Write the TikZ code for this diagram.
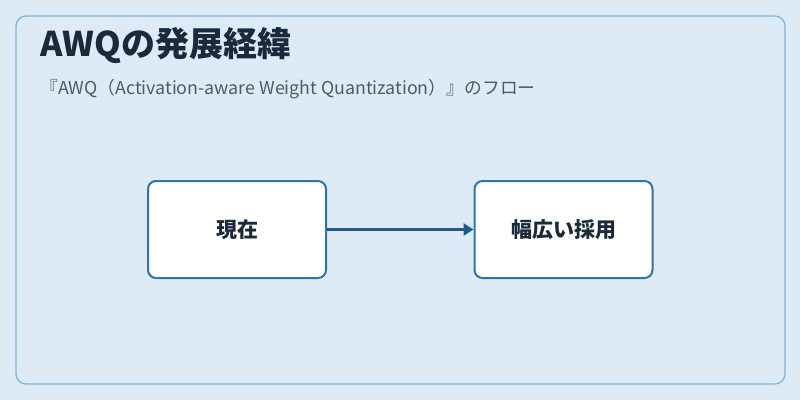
\documentclass[tikz,border=0pt]{standalone}
\usepackage{fontspec}
\setmainfont{Noto Sans CJK JP}
\usetikzlibrary{arrows.meta}
\definecolor{bg}{HTML}{DCEBF6}
\definecolor{frame}{HTML}{7FB2D9}
\definecolor{boxline}{HTML}{2E75AA}
\definecolor{arrowc}{HTML}{1F5A8A}
\definecolor{titlec}{HTML}{1B2A3A}
\definecolor{subc}{HTML}{4A5B6C}
\tikzset{
  stepbox/.style={draw=boxline,line width=2pt,fill=white,rounded corners=8pt,minimum width=178pt,minimum height=97pt,font=\fontsize{21}{24}\selectfont\bfseries,text=titlec},
  flow/.style={draw=arrowc,line width=3pt,-{Triangle[length=10pt,width=12pt]}}
}
\begin{document}
\begin{tikzpicture}[x=1pt,y=-1pt]
\path[fill=bg] (0,0) rectangle (800,400);
\useasboundingbox (0,0) rectangle (800,400);
\draw[frame,line width=1.2pt,rounded corners=10pt] (16,16) rectangle (785,384);
\node[anchor=west,font=\fontsize{34}{38}\selectfont\bfseries,text=titlec,inner sep=0pt] (title) at (40,46) {AWQの発展経緯};
\node[anchor=west,font=\fontsize{17.8}{20}\selectfont,text=subc,inner sep=0pt] (sub) at (40,89) {『AWQ（Activation-aware Weight Quantization）』のフロー};
\node[stepbox] (a) at (237,229.5) {現在};
\node[stepbox] (b) at (563.5,229.5) {幅広い採用};
\draw[flow] (a.east) -- (b.west);
\end{tikzpicture}
\end{document}
